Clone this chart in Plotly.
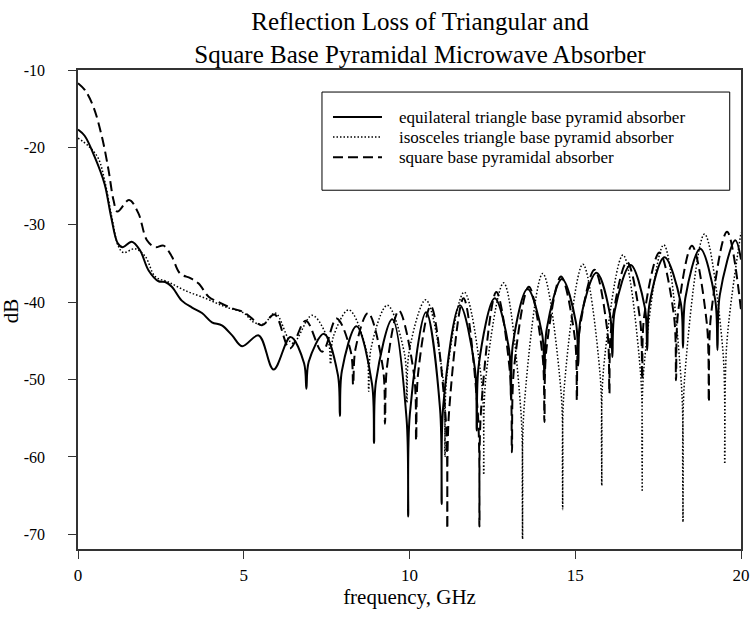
import plotly.graph_objects as go

# ---- data (frequency in GHz, reflection loss in dB) ----
f_equi = [0, 0.2, 0.5, 0.8, 1.0, 1.2, 1.35, 1.62, 1.87, 2.13, 2.43, 2.63, 2.83, 3.13, 3.44, 3.74,
          4.04, 4.34, 4.65, 4.95, 5.45, 5.90, 6.41, 6.82, 6.89, 6.96, 7.42, 7.84, 7.90, 7.96, 8.40,
          8.87, 8.93, 8.99, 9.48, 9.91, 9.96, 10.01, 10.50, 10.92, 10.97, 11.02, 11.52, 11.97, 12.03,
          12.09, 12.57, 13.00, 13.06, 13.12, 13.56, 14.00, 14.07, 14.14, 14.60, 15.02, 15.09, 15.16,
          15.64, 16.05, 16.12, 16.19, 16.67, 17.10, 17.17, 17.24, 17.69, 18.18, 18.25, 18.32, 18.77,
          19.22, 19.29, 19.36, 19.83, 20.0]
db_equi = [-17.7, -18.5, -21.2, -24.7, -29.0, -32.4, -32.9, -32.2, -33.3, -35.9, -37.3, -37.4, -38.0,
           -39.8, -40.7, -41.4, -42.6, -43.0, -44.3, -45.7, -44.3, -48.7, -44.5, -47.9, -51.2, -47.7,
           -44.1, -49.4, -54.7, -48.9, -43.1, -50.6, -58.2, -50.2, -42.2, -55.0, -67.7, -54.5, -41.3,
           -53.7, -66.1, -53.3, -40.4, -48.5, -56.6, -48.1, -39.5, -46.0, -52.5, -45.4, -38.3, -44.1,
           -49.9, -43.45, -37.0, -42.6, -48.2, -42.2, -36.2, -41.65, -47.1, -41.15, -35.2, -40.7,
           -46.2, -40.2, -34.2, -40.05, -45.9, -39.5, -33.1, -39.65, -46.2, -39.1, -32.0, -34.5]

f_isos = [0, 0.31, 0.61, 0.82, 1.02, 1.22, 1.37, 1.72, 2.03, 2.33, 2.73, 3.23, 3.84, 4.44, 5.0,
          5.30, 5.60, 5.95, 6.47, 7.06, 7.54, 7.62, 7.70, 8.17, 8.70, 8.77, 8.84, 9.33, 9.85, 9.92,
          9.99, 10.49, 11.01, 11.07, 11.13, 11.65, 12.18, 12.24, 12.30, 12.84, 13.36, 13.41, 13.46,
          14.02, 14.57, 14.62, 14.67, 15.23, 15.75, 15.80, 15.85, 16.44, 16.97, 17.02, 17.07, 17.67,
          18.20, 18.25, 18.30, 18.90, 19.45, 19.51, 19.57, 20.0]
db_isos = [-18.8, -19.8, -21.4, -24.6, -29.0, -32.8, -33.6, -33.1, -34.1, -36.7, -37.4, -38.5,
           -39.5, -40.6, -41.4, -42.6, -42.8, -41.4, -45.3, -41.7, -44.85, -48.0, -44.5, -41.0,
           -46.25, -51.5, -45.95, -40.4, -46.7, -53.0, -46.35, -39.7, -49.85, -60.0, -49.35, -38.7,
           -50.5, -62.3, -49.9, -37.5, -54.05, -70.6, -53.45, -36.3, -51.55, -66.8, -50.95, -35.1,
           -49.4, -63.7, -48.8, -33.9, -49.2, -64.5, -48.55, -32.6, -50.5, -68.4, -49.8, -31.2,
           -46.05, -60.9, -45.45, -31.0]

f_square = [0, 0.21, 0.46, 0.72, 0.92, 1.07, 1.19, 1.54, 1.82, 2.08, 2.33, 2.58, 2.83, 3.08, 3.39,
            3.64, 3.94, 4.24, 4.65, 5.0, 5.30, 5.55, 5.93, 6.39, 6.87, 7.37, 7.80, 8.23, 8.30, 8.37,
            8.75, 9.20, 9.26, 9.32, 9.68, 10.14, 10.20, 10.26, 10.64, 11.09, 11.14, 11.19, 11.63,
            12.06, 12.11, 12.16, 12.62, 13.03, 13.09, 13.15, 13.60, 14.01, 14.07, 14.13, 14.57,
            14.99, 15.05, 15.11, 15.58, 15.97, 16.03, 16.09, 16.56, 16.96, 17.02, 17.08, 17.54,
            17.98, 18.04, 18.10, 18.52, 18.97, 19.03, 19.09, 19.58, 20.0]
db_square = [-11.7, -12.6, -14.7, -18.6, -22.9, -26.8, -28.3, -26.8, -28.5, -32.0, -32.9, -32.7,
             -34.1, -36.3, -36.9, -37.6, -39.3, -40.0, -40.8, -41.3, -42.3, -43.0, -41.6, -46.0,
             -42.4, -46.4, -42.1, -46.4, -50.7, -46.05, -41.4, -48.55, -55.7, -48.4, -41.1, -49.5,
             -57.9, -49.2, -40.5, -54.9, -69.3, -54.4, -39.5, -54.25, -69.0, -53.85, -38.7, -49.05,
             -59.4, -48.7, -38.0, -46.75, -55.5, -46.1, -36.7, -44.7, -52.7, -44.25, -35.8, -43.8,
             -51.8, -43.3, -34.8, -42.4, -50.0, -41.8, -33.6, -41.85, -50.1, -41.4, -32.7, -42.8,
             -52.9, -41.9, -30.9, -41.0]

series_names = ["equilateral triangle base pyramid absorber",
                "isosceles triangle base pyramid absorber",
                "square base pyramidal absorber"]
x_ticks = [0, 5, 10, 15, 20]
x_ticktext = ["0", "5", "10", "15", "20"]
y_ticks = [-10, -20, -30, -40, -50, -60, -70]
y_ticktext = ["-10", "-20", "-30", "-40", "-50", "-60", "-70"]

FONT = "Liberation Serif, Times New Roman, serif"
styles = [dict(width=2, dash="solid"),
          dict(width=1.5, dash="1.5px,2px"),
          dict(width=2, dash="10px,5px")]
series = [(f_equi, db_equi), (f_isos, db_isos), (f_square, db_square)]

fig = go.Figure()
for (fx, fy), name, st in zip(series, series_names, styles):
    fig.add_trace(go.Scatter(x=fx, y=fy, mode="lines", name=name, showlegend=False,
                             line=dict(color="black", width=st["width"], dash=st["dash"],
                                       shape="spline", smoothing=1.0)))

# framed key inside the plot (paper coordinates)
leg_x0, leg_x1, leg_y0, leg_y1 = 0.368, 0.983, 0.749, 0.954
row_y = [0.9017, 0.8599, 0.8181]
shapes = [dict(type="rect", xref="paper", yref="paper", x0=leg_x0, x1=leg_x1, y0=leg_y0, y1=leg_y1,
               line=dict(color="black", width=1), fillcolor="white", layer="above")]
annotations = []
for yy, name, st in zip(row_y, series_names, styles):
    shapes.append(dict(type="line", xref="paper", yref="paper", x0=0.3846, x1=0.4585, y0=yy, y1=yy,
                       line=dict(color="black", width=st["width"], dash=st["dash"]), layer="above"))
    annotations.append(dict(xref="paper", yref="paper", x=0.4811, y=yy, xanchor="left",
                            yanchor="middle", text=name, showarrow=False,
                            font=dict(family=FONT, size=17, color="black")))
# y-axis title
annotations.append(dict(xref="paper", yref="paper", x=-0.1, y=0.498, xanchor="center",
                        yanchor="middle", text="dB", textangle=-90, showarrow=False,
                        font=dict(family=FONT, size=21, color="black")))

fig.update_layout(
    width=750, height=619,
    margin=dict(l=78, r=9, t=70, b=70, autoexpand=False),
    paper_bgcolor="white", plot_bgcolor="white",
    font=dict(family=FONT, color="black", size=17),
    title=dict(text="Reflection Loss of Triangular and<br>Square Base Pyramidal Microwave Absorber",
               x=0.56, xanchor="center", xref="container",
               y=0.951, yanchor="top", yref="container",
               font=dict(family=FONT, size=25, color="black")),
    shapes=shapes, annotations=annotations,
)
fig.update_xaxes(range=[0, 20], tickvals=x_ticks, ticktext=x_ticktext, ticks="outside", ticklen=8,
                 tickcolor="#333", showline=True, linecolor="#333", linewidth=1.5,
                 mirror=True, showgrid=False, zeroline=False, automargin=False,
                 ticklabelstandoff=2,
                 title=dict(text="frequency, GHz", font=dict(family=FONT, size=21), standoff=0))
fig.update_yaxes(range=[-71.9, -10], tickvals=y_ticks, ticktext=y_ticktext, ticks="outside", ticklen=8,
                 tickcolor="#333", showline=True, linecolor="#333", linewidth=1.5,
                 mirror=True, showgrid=False, zeroline=False, automargin=False,
                 tickfont=dict(family=FONT, size=16), ticklabelstandoff=20)

fig.write_html("out.html", config={"displayModeBar": False},
               post_script="document.body.style.margin='0px';")
